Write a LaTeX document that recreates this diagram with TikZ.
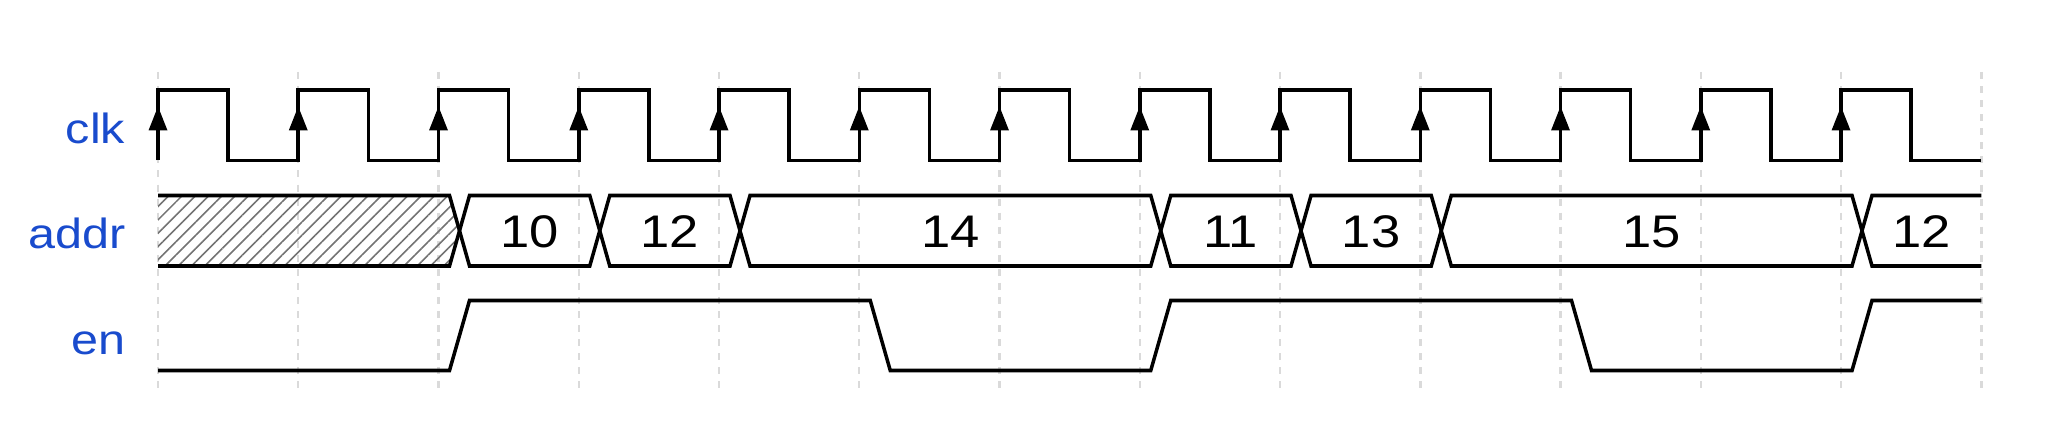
\documentclass[tikz,border=0pt]{standalone}
\usepackage{fontspec}
\setmainfont{Liberation Sans}
\usetikzlibrary{patterns.meta}
\definecolor{labelblue}{RGB}{25,75,205}
\definecolor{gridgray}{RGB}{218,218,218}

\begin{document}
\begin{tikzpicture}[
		x=0.01cm, y=-0.01cm,
		every node/.style={inner sep=0pt, xscale=1.15},
		wave/.style={line width=1pt},
		gridline/.style={gridgray, line width=0.7pt, dash pattern=on 2pt off 2pt},
		hatch/.style={pattern={Lines[angle=45, distance=2.67pt, line width=0.45pt]}, pattern color=black!55},
		signame/.style={anchor=base east, text=labelblue, font=\fontsize{12}{14}\selectfont},
		busval/.style={font=\fontsize{13}{15}\selectfont}
	]
  \useasboundingbox (0, 0) rectangle (2064, 431);
  % grid
  \foreach \k in {0,...,13}
    \draw[gridline] ({158+140.25*\k}, 72) -- ({158+140.25*\k}, 388);
  \node (clk) [signame] at (126, 144) {clk};
  \node (addr) [signame] at (126, 248.3) {addr};
  \node (en) [signame] at (126, 355) {en};
  % clk
  \draw[wave] (158, 160.5) \foreach \k in {0,...,12} { -- ++(0, -70.5) -- ++(70.125, 0) -- ++(0, 70.5) -- ++(70.125, 0) };
  \foreach \k in {0,...,12}
    \fill ({158+140.25*\k}, 106.5) -- ++(-9.5, 24) -- ++(19, 0) -- cycle;
  % addr
  \fill[hatch] (158, 195.5) -- (449.5, 195.5) -- (459.5, 230.75) -- (449.5, 266) -- (158, 266) -- cycle;
  \draw[wave] (158, 195.5) -- (449.5, 195.5) -- (459.5, 230.75) -- (449.5, 266) -- (158, 266);
  \foreach \a/\b/\v in {2/3/10, 3/4/12, 4/7/14, 7/8/11, 8/9/13, 9/12/15} {
    \draw[wave] ({158+140.25*\a+31}, 195.5) -- ({158+140.25*\b+11}, 195.5) -- ({158+140.25*\b+21}, 230.75)
      -- ({158+140.25*\b+11}, 266) -- ({158+140.25*\a+31}, 266) -- ({158+140.25*\a+21}, 230.75) -- cycle;
    \node (v\a) [busval] at ({158+140.25*(\a+\b)/2+21}, 232) {\v};
  }
  \draw[wave] (1981.25, 195.5) -- (1872, 195.5) -- (1862, 230.75) -- (1872, 266) -- (1981.25, 266);
  \node (v12) [busval] at (1921.5, 232) {12};
  % en
  \draw[wave] (158, 370.5) -- (449.5, 370.5) -- (469.5, 300.5) -- (870.25, 300.5) -- (890.25, 370.5)
    -- (1150.75, 370.5) -- (1170.75, 300.5) -- (1571.5, 300.5) -- (1591.5, 370.5) -- (1852, 370.5)
    -- (1872, 300.5) -- (1981.25, 300.5);
\end{tikzpicture}
\end{document}
